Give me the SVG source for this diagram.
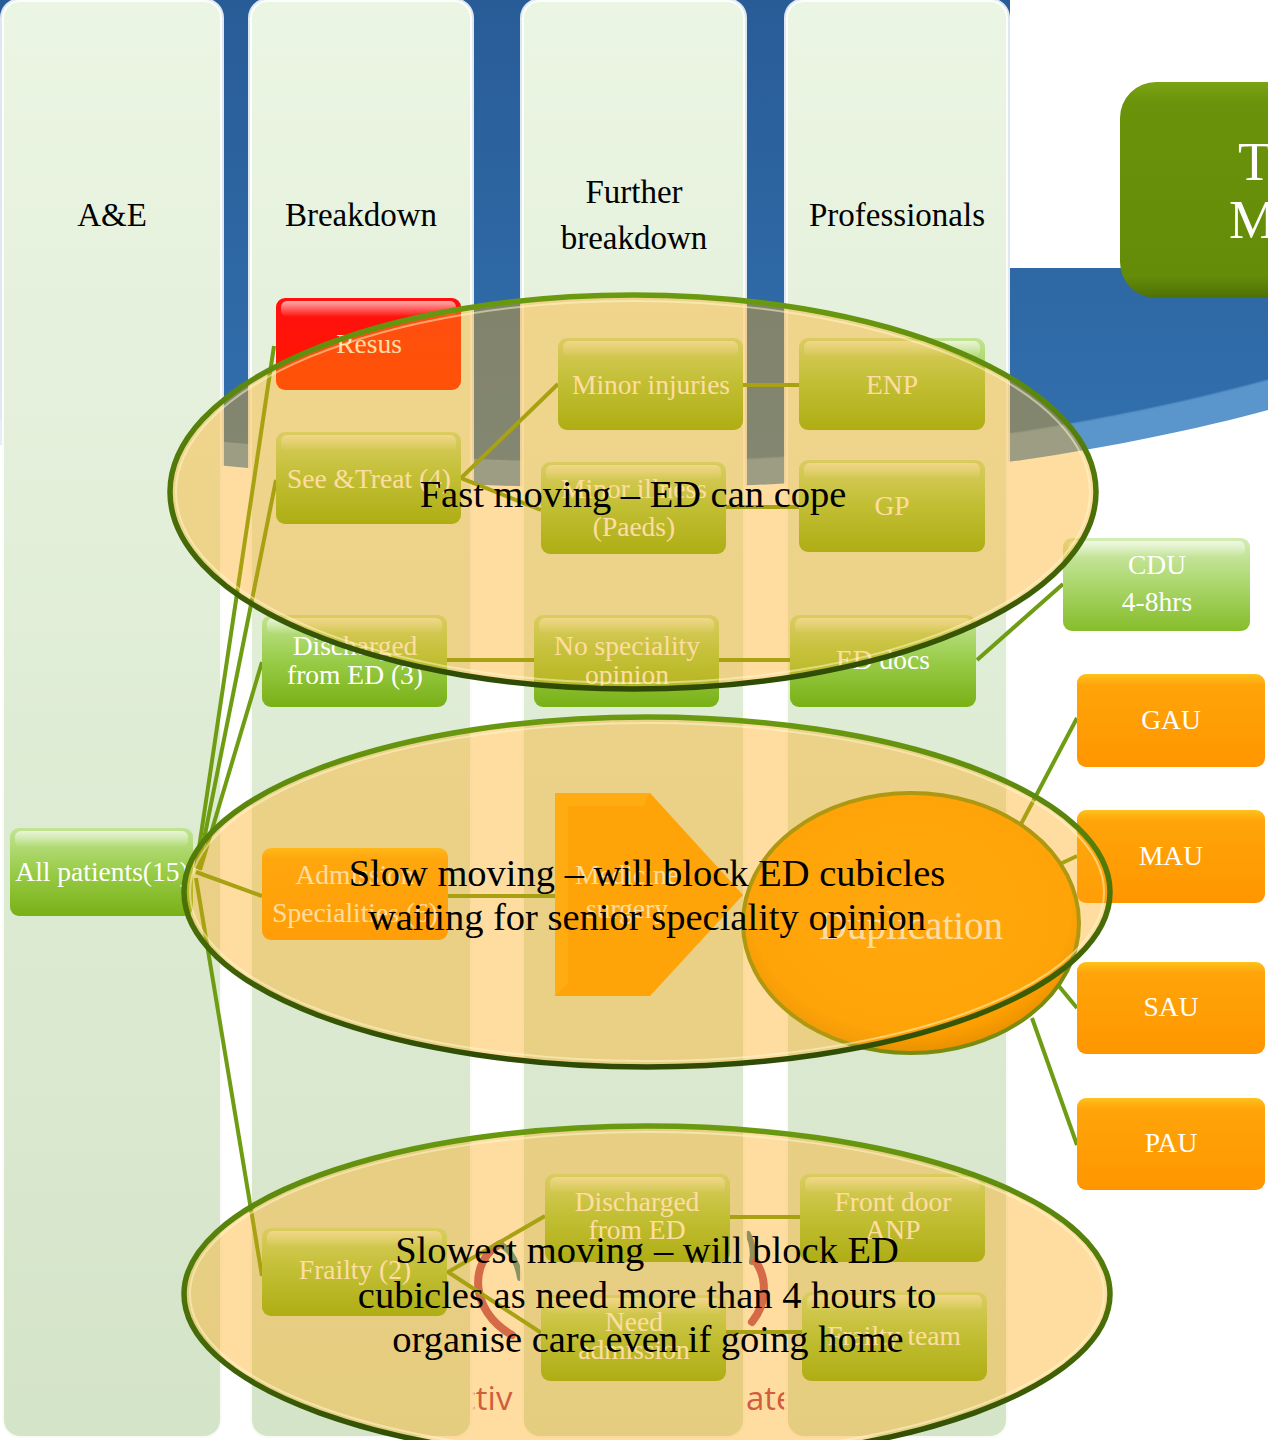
<svg xmlns="http://www.w3.org/2000/svg" width="1268" height="1440" viewBox="0 0 1268 1440">
<defs>
  <linearGradient id="gBlue" x1="0" y1="0" x2="0" y2="1">
    <stop offset="0" stop-color="#285c97"/>
    <stop offset="1" stop-color="#3270ae"/>
  </linearGradient>
  <linearGradient id="gCol" x1="0" y1="0" x2="0" y2="1">
    <stop offset="0" stop-color="#ebf5e3"/>
    <stop offset="1" stop-color="#d4e4c8"/>
  </linearGradient>
  <linearGradient id="gGreen" x1="0" y1="0" x2="0" y2="1">
    <stop offset="0" stop-color="#c2e493"/>
    <stop offset="0.5" stop-color="#98cc48"/>
    <stop offset="1" stop-color="#79b015"/>
  </linearGradient>
  <linearGradient id="gGreenL" x1="0" y1="0" x2="0" y2="1">
    <stop offset="0" stop-color="#d4edb4"/>
    <stop offset="0.5" stop-color="#abd66c"/>
    <stop offset="1" stop-color="#86bd2a"/>
  </linearGradient>
  <linearGradient id="gRed" x1="0" y1="0" x2="0" y2="1">
    <stop offset="0" stop-color="#ff1010"/>
    <stop offset="1" stop-color="#ff1800"/>
  </linearGradient>
  <linearGradient id="gOrange" x1="0" y1="0" x2="0" y2="1">
    <stop offset="0" stop-color="#ffc21c"/>
    <stop offset="0.12" stop-color="#ffa40a"/>
    <stop offset="1" stop-color="#ff9600"/>
  </linearGradient>
  <linearGradient id="gGloss" x1="0" y1="0" x2="0" y2="1">
    <stop offset="0" stop-color="#ffffff" stop-opacity="0.65"/>
    <stop offset="1" stop-color="#ffffff" stop-opacity="0"/>
  </linearGradient>
  <linearGradient id="gTitle" x1="0" y1="0" x2="0" y2="1">
    <stop offset="0" stop-color="#7aa314"/>
    <stop offset="0.1" stop-color="#6a920a"/>
    <stop offset="0.9" stop-color="#658c08"/>
    <stop offset="1" stop-color="#4e7004"/>
  </linearGradient>
  <linearGradient id="gEll" x1="0" y1="0" x2="0" y2="1">
    <stop offset="0" stop-color="#6a9a10"/>
    <stop offset="0.5" stop-color="#4c7408"/>
    <stop offset="1" stop-color="#2e4a04"/>
  </linearGradient>
  <radialGradient id="gDup" cx="0.5" cy="0.45" r="0.55">
    <stop offset="0" stop-color="#ffa70c"/>
    <stop offset="0.85" stop-color="#ffa000"/>
    <stop offset="1" stop-color="#e89000"/>
  </radialGradient>
  <style>
    .col { fill:url(#gCol); stroke:#ffffff; stroke-width:4; stroke-opacity:0.85; }
    .hdr { font-family:"Liberation Serif","Times New Roman",serif; font-size:33px; fill:#000000; text-anchor:middle; }
    .bt { font-family:"Liberation Serif","Times New Roman",serif; font-size:27.5px; fill:#ffffff; text-anchor:middle; }
    .et { font-family:"Liberation Serif","Times New Roman",serif; font-size:38.5px; fill:#000000; text-anchor:middle; }
    .bg { fill:url(#gGreen); }
    .bgl { fill:url(#gGreenL); }
    .bo { fill:url(#gOrange); }
    .gl { fill:url(#gGloss); }
    .conn { stroke:#6e9c12; stroke-width:4; fill:none; stroke-linecap:butt; }
    .ell { fill:#ffaa14; fill-opacity:0.4; stroke:url(#gEll); stroke-width:5.5; }
    .ellhi { fill:none; stroke:#fffbd0; stroke-width:2; stroke-opacity:0.5; }
    .logo { font-family:"Open Sans","DejaVu Sans",sans-serif; font-size:33px; fill:#b02a5a; }
  </style>
</defs>

<rect x="0" y="0" width="1268" height="1440" fill="#ffffff"/>

<!-- background blue swoosh -->
<g id="background">
  <path d="M0,0 H1010 V268 H1268 V410 C1120,450 900,488 620,488 C400,488 200,462 0,445 Z" fill="#5a95cb"/>
  <path d="M0,0 H1010 V268 H1268 V380 C1120,420 900,462 620,462 C400,462 200,440 0,420 Z" fill="url(#gBlue)"/>
  <path d="M1268,380 C1120,420 900,462 620,462" fill="none" stroke="#4f8bc4" stroke-width="2" stroke-opacity="0.5"/>
  <!-- background logo fragments -->
  <path d="M500,1244 C470,1260 468,1310 512,1335" fill="none" stroke="#b8406a" stroke-width="8" stroke-linecap="round"/>
  <path d="M503,1246 C512,1252 518,1265 520,1278" fill="none" stroke="#3a8898" stroke-width="6" stroke-linecap="round"/>
  <path d="M748,1234 C752,1242 754,1252 752,1262" fill="none" stroke="#4a7e88" stroke-width="6" stroke-linecap="round"/>
  <path d="M756,1262 C768,1280 766,1305 752,1322" fill="none" stroke="#b8406a" stroke-width="8" stroke-linecap="round"/>
  <text class="logo" x="460" y="1410">ctiv</text>
  <text class="logo" x="746" y="1410">ate</text>
</g>

<!-- columns -->
<g id="columns">
  <rect class="col" x="2" y="0" width="220" height="1438" rx="18"/>
  <rect class="col" x="250" y="0" width="222" height="1438" rx="18"/>
  <rect class="col" x="522" y="0" width="223" height="1438" rx="18"/>
  <rect class="col" x="786" y="0" width="222" height="1438" rx="18"/>
  <text class="hdr" x="112" y="226">A&amp;E</text>
  <text class="hdr" x="361" y="226">Breakdown</text>
  <text class="hdr" x="634" y="203">Further</text>
  <text class="hdr" x="634" y="249">breakdown</text>
  <text class="hdr" x="897" y="226">Professionals</text>
</g>

<!-- title box (cut off) -->
<g id="title">
  <rect x="1120" y="82" width="200" height="216" rx="36" fill="url(#gTitle)"/>
  <text x="1238" y="180" font-family="Liberation Serif, serif" font-size="54" fill="#ffffff">T</text>
  <text x="1229" y="238" font-family="Liberation Serif, serif" font-size="54" fill="#ffffff">M</text>
</g>

<!-- connectors -->
<g id="connectors">
  <line class="conn" x1="196" y1="868" x2="274" y2="346"/>
  <line class="conn" x1="198" y1="869" x2="276" y2="480"/>
  <line class="conn" x1="200" y1="870" x2="262" y2="662"/>
  <line class="conn" x1="196" y1="872" x2="262" y2="896"/>
  <line class="conn" x1="196" y1="878" x2="262" y2="1276"/>
  <polyline class="conn" points="558,384 461,478 541,510"/>
  <line class="conn" x1="743" y1="385" x2="799" y2="385"/>
  <line class="conn" x1="726" y1="507" x2="799" y2="507"/>
  <line class="conn" x1="447" y1="660" x2="534" y2="660"/>
  <line class="conn" x1="719" y1="660" x2="790" y2="660"/>
  <line class="conn" x1="977" y1="660" x2="1063" y2="584" stroke="#78ad10"/>
  <line class="conn" x1="447" y1="896" x2="556" y2="896"/>
  <line class="conn" x1="1020" y1="826" x2="1077" y2="718" stroke="#78ad10"/>
  <line class="conn" x1="1060" y1="864" x2="1077" y2="856" stroke="#78ad10"/>
  <line class="conn" x1="1058" y1="985" x2="1077" y2="1008" stroke="#78ad10"/>
  <line class="conn" x1="1032" y1="1018" x2="1077" y2="1145" stroke="#78ad10"/>
  <polyline class="conn" points="545,1216 448,1272 543,1334"/>
  <line class="conn" x1="730" y1="1217" x2="800" y2="1217"/>
  <line class="conn" x1="726" y1="1332" x2="802" y2="1332"/>
</g>

<!-- nodes -->
<g id="n-resus">
  <rect x="276" y="298" width="185" height="92" rx="9" fill="url(#gRed)"/>
  <rect class="gl" x="281" y="301" width="175" height="16" rx="6"/>
  <text class="bt" x="369" y="353">Resus</text>
</g>
<g id="n-seetreat">
  <rect class="bg" x="276" y="432" width="185" height="92" rx="9"/>
  <rect class="gl" x="281" y="435" width="175" height="16" rx="6"/>
  <text class="bt" x="369" y="488">See &amp;Treat (4)</text>
</g>
<g id="n-discharged3">
  <rect class="bg" x="262" y="615" width="185" height="92" rx="9"/>
  <rect class="gl" x="267" y="618" width="175" height="16" rx="6"/>
  <text class="bt" x="355" y="655">Discharged</text>
  <text class="bt" x="355" y="684">from ED (3)</text>
</g>
<g id="n-admission">
  <rect class="bo" x="262" y="848" width="186" height="92" rx="9"/>
  <text class="bt" x="355" y="884">Admission</text>
  <text class="bt" x="355" y="922">Specialities (6)</text>
</g>
<g id="n-frailty">
  <rect class="bg" x="262" y="1228" width="185" height="88" rx="9"/>
  <rect class="gl" x="267" y="1231" width="175" height="16" rx="6"/>
  <text class="bt" x="355" y="1279">Frailty (2)</text>
</g>
<g id="n-allpatients">
  <rect class="bg" x="10" y="828" width="183" height="88" rx="9"/>
  <rect class="gl" x="15" y="831" width="173" height="16" rx="6"/>
  <text class="bt" x="102" y="881">All patients(15)</text>
</g>
<g id="n-minorinj">
  <rect class="bg" x="558" y="338" width="185" height="92" rx="9"/>
  <rect class="gl" x="563" y="341" width="175" height="16" rx="6"/>
  <text class="bt" x="651" y="394">Minor injuries</text>
</g>
<g id="n-minorill">
  <rect class="bg" x="541" y="462" width="185" height="92" rx="9"/>
  <rect class="gl" x="546" y="465" width="175" height="16" rx="6"/>
  <text class="bt" x="634" y="498">Minor illness</text>
  <text class="bt" x="634" y="536">(Paeds)</text>
</g>
<g id="n-nospec">
  <rect class="bg" x="534" y="615" width="185" height="92" rx="9"/>
  <rect class="gl" x="539" y="618" width="175" height="16" rx="6"/>
  <text class="bt" x="627" y="655">No speciality</text>
  <text class="bt" x="627" y="684">opinion</text>
</g>
<g id="n-medicine">
  <path d="M555,793 H650 L743,895 L650,996 H555 Z" fill="#ffa000"/>
  <path d="M555,793 H650 L643,806 H568 V983 L555,996 Z" fill="#ffb81e" fill-opacity="0.6"/>
  <text class="bt" x="627" y="884">Medicine</text>
  <text class="bt" x="627" y="918">surgery</text>
</g>
<g id="n-disch-ed">
  <rect class="bg" x="545" y="1174" width="185" height="88" rx="9"/>
  <rect class="gl" x="550" y="1177" width="175" height="16" rx="6"/>
  <text class="bt" x="637" y="1211">Discharged</text>
  <text class="bt" x="637" y="1239">from ED</text>
</g>
<g id="n-needadm">
  <rect class="bg" x="541" y="1295" width="185" height="86" rx="9"/>
  <rect class="gl" x="546" y="1298" width="175" height="16" rx="6"/>
  <text class="bt" x="634" y="1331">Need</text>
  <text class="bt" x="634" y="1359">admission</text>
</g>
<g id="n-enp">
  <rect class="bg" x="799" y="338" width="186" height="92" rx="9"/>
  <rect class="gl" x="804" y="341" width="176" height="16" rx="6"/>
  <text class="bt" x="892" y="394">ENP</text>
</g>
<g id="n-gp">
  <rect class="bg" x="799" y="460" width="186" height="92" rx="9"/>
  <rect class="gl" x="804" y="463" width="176" height="16" rx="6"/>
  <text class="bt" x="892" y="515">GP</text>
</g>
<g id="n-eddocs">
  <rect class="bg" x="790" y="615" width="186" height="92" rx="9"/>
  <rect class="gl" x="795" y="618" width="176" height="16" rx="6"/>
  <text class="bt" x="883" y="669">ED docs</text>
</g>
<g id="n-frontdoor">
  <rect class="bg" x="800" y="1174" width="185" height="88" rx="9"/>
  <rect class="gl" x="805" y="1177" width="175" height="16" rx="6"/>
  <text class="bt" x="893" y="1211">Front door</text>
  <text class="bt" x="893" y="1239">ANP</text>
</g>
<g id="n-frailtyteam">
  <rect class="bg" x="802" y="1292" width="185" height="89" rx="9"/>
  <rect class="gl" x="807" y="1295" width="175" height="16" rx="6"/>
  <text class="bt" x="894" y="1345">Frailty team</text>
</g>
<g id="n-cdu">
  <rect class="bgl" x="1063" y="538" width="187" height="93" rx="9"/>
  <rect class="gl" x="1068" y="541" width="177" height="16" rx="6"/>
  <text class="bt" x="1157" y="574">CDU</text>
  <text class="bt" x="1157" y="611">4-8hrs</text>
</g>
<g id="n-gau">
  <rect class="bo" x="1077" y="674" width="188" height="93" rx="9"/>
  <text class="bt" x="1171" y="729">GAU</text>
</g>
<g id="n-mau">
  <rect class="bo" x="1077" y="810" width="188" height="93" rx="9"/>
  <text class="bt" x="1171" y="865">MAU</text>
</g>
<g id="n-sau">
  <rect class="bo" x="1077" y="962" width="188" height="92" rx="9"/>
  <text class="bt" x="1171" y="1016">SAU</text>
</g>
<g id="n-pau">
  <rect class="bo" x="1077" y="1098" width="188" height="92" rx="9"/>
  <text class="bt" x="1171" y="1152">PAU</text>
</g>
<g id="n-duplication">
  <ellipse cx="911" cy="923" rx="168" ry="130" fill="url(#gDup)" stroke="#7a8c10" stroke-width="4"/>
  <text x="911" y="939" font-family="Liberation Serif, serif" font-size="39" fill="#ffffff" text-anchor="middle">Duplication</text>
</g>

<!-- overlay ellipses -->
<g id="n-fast">
  <ellipse class="ell" cx="633" cy="492" rx="463" ry="197"/>
  <ellipse class="ellhi" cx="633" cy="492" rx="457" ry="191"/>
  <text class="et" x="633" y="507" font-size="39.5">Fast moving – ED can cope</text>
</g>
<g id="n-slow">
  <ellipse class="ell" cx="647" cy="892" rx="463" ry="175"/>
  <ellipse class="ellhi" cx="647" cy="892" rx="457" ry="169"/>
  <text class="et" x="647" y="886">Slow moving – will block ED cubicles</text>
  <text class="et" x="647" y="930">waiting for senior speciality opinion</text>
</g>
<g id="n-slowest">
  <ellipse class="ell" cx="647" cy="1294" rx="463" ry="168"/>
  <ellipse class="ellhi" cx="647" cy="1294" rx="457" ry="162"/>
  <text class="et" x="647" y="1263">Slowest moving – will block ED</text>
  <text class="et" x="647" y="1308">cubicles as need more than 4 hours to</text>
  <text class="et" x="648" y="1352">organise care even if  going home</text>
</g>
</svg>
